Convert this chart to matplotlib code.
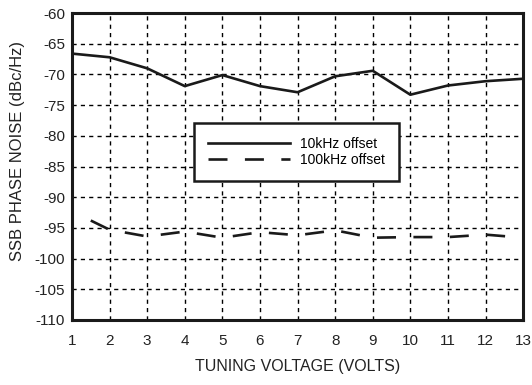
import numpy as np
import matplotlib.pyplot as plt

plt.rcParams['font.family'] = ['Liberation Sans', 'DejaVu Sans']
plt.rcParams['axes.unicode_minus'] = False

# =====================================
# Data
# =====================================

volts_10k = [1, 2, 3, 4, 5, 6, 7, 8, 9, 10, 11, 12, 13]
noise_10k = [-66.6, -67.2, -69.0, -71.9, -70.1, -71.9, -72.9,
             -70.3, -69.4, -73.3, -71.8, -71.1, -70.7]

volts_100k = [1.5, 2, 3, 4, 5, 6, 7, 8, 9, 10, 11, 12, 13]
noise_100k = [-93.8, -95.3, -96.4, -95.6, -96.6, -95.7, -96.2,
              -95.4, -96.6, -96.5, -96.5, -96.1, -96.6]

x_ticks = list(range(1, 14))
y_ticks = list(range(-110, -59, 5))

# =====================================
# Plot
# =====================================

fig = plt.figure(figsize=(5.32, 3.85), dpi=100)
ax = fig.add_axes([0.1353, 0.169, 0.848, 0.797])

ax.plot(volts_10k, noise_10k, color="#1a1a1a", lw=1.9,
        label="10kHz offset", zorder=3)
ax.plot(volts_100k, noise_100k, color="#1a1a1a", lw=1.9,
        dashes=(7.2, 6.6), label="100kHz offset", zorder=3)

ax.set_xlim(1, 13)
ax.set_ylim(-110, -60)
ax.set_xticks(x_ticks)
ax.set_yticks(y_ticks)
ax.tick_params(length=0, labelsize=11, colors="#222222")
ax.tick_params(axis="x", pad=10)
ax.tick_params(axis="y", pad=5)

ax.grid(True, color="black", lw=1.0, linestyle=(0, (3, 3)))
for s in ax.spines.values():
    s.set_linewidth(2.2)
    s.set_color("#1a1a1a")

ax.set_xlabel("TUNING VOLTAGE (VOLTS)", fontsize=11.5, labelpad=8, color="#222222")
ax.set_ylabel("SSB PHASE NOISE (dBc/Hz)", fontsize=12, color="#222222")
ax.yaxis.set_label_coords(-0.104, 0.55)

leg = ax.legend(loc="upper left", bbox_to_anchor=(0.27, 0.642),
                fontsize=10, handlelength=5.9, handletextpad=0.75,
                fancybox=False, framealpha=1, edgecolor="#1a1a1a",
                borderpad=1.0, labelspacing=0.15, borderaxespad=0)
leg.get_frame().set_linewidth(1.8)

fig.savefig("out.png", dpi=100)
